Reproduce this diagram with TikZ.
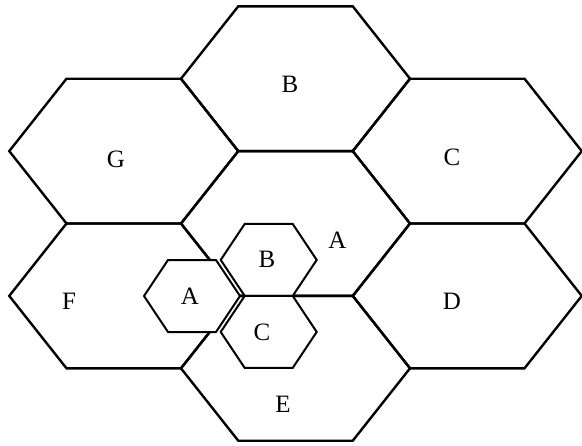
\documentclass[tikz,border=0pt]{standalone}
\usepackage{fontspec}
\setmainfont{Liberation Serif}
\tikzstyle{cell}=[draw=black, line width=1.2pt]
\tikzstyle{sub_cell}=[draw=black, fill=white, line width=1pt]
\tikzstyle{cell_name}=[inner sep=0pt, font=\fontsize{12.5}{14}\selectfont]
\begin{document}
\begin{tikzpicture}[x=0.5pt, y=-0.5pt]
  \useasboundingbox (0,0) rectangle (582,445);
  % seven large cells
  \foreach \cx/\cy in {295.5/223.5, 295.5/78.7, 295.5/368.3, 123.75/151.1, 467.25/151.1, 123.75/295.9, 467.25/295.9}
    \draw[cell, shift={(\cx,\cy)}] (-114.5,0) -- (-57.25,-72.4) -- (57.25,-72.4)
      -- (114.5,0) -- (57.25,72.4) -- (-57.25,72.4) -- cycle;
  % three small cells
  \foreach \cx/\cy in {192/296, 268.7/259.9, 268.7/331.9}
    \draw[sub_cell, shift={(\cx,\cy)}] (-48,0) -- (-24,-36) -- (24,-36)
      -- (48,0) -- (24,36) -- (-24,36) -- cycle;
  \node[cell_name] (cellB) at (290,84) {B};
  \node[cell_name] (cellG) at (116,159) {G};
  \node[cell_name] (cellC) at (452,157) {C};
  \node[cell_name] (cellA) at (337.5,240) {A};
  \node[cell_name] (cellF) at (69,301) {F};
  \node[cell_name] (cellD) at (452,301) {D};
  \node[cell_name] (cellE) at (283,404) {E};
  \node[cell_name] (subB) at (267,259) {B};
  \node[cell_name] (subA) at (190,296) {A};
  \node[cell_name] (subC) at (262,332) {C};
\end{tikzpicture}
\end{document}
